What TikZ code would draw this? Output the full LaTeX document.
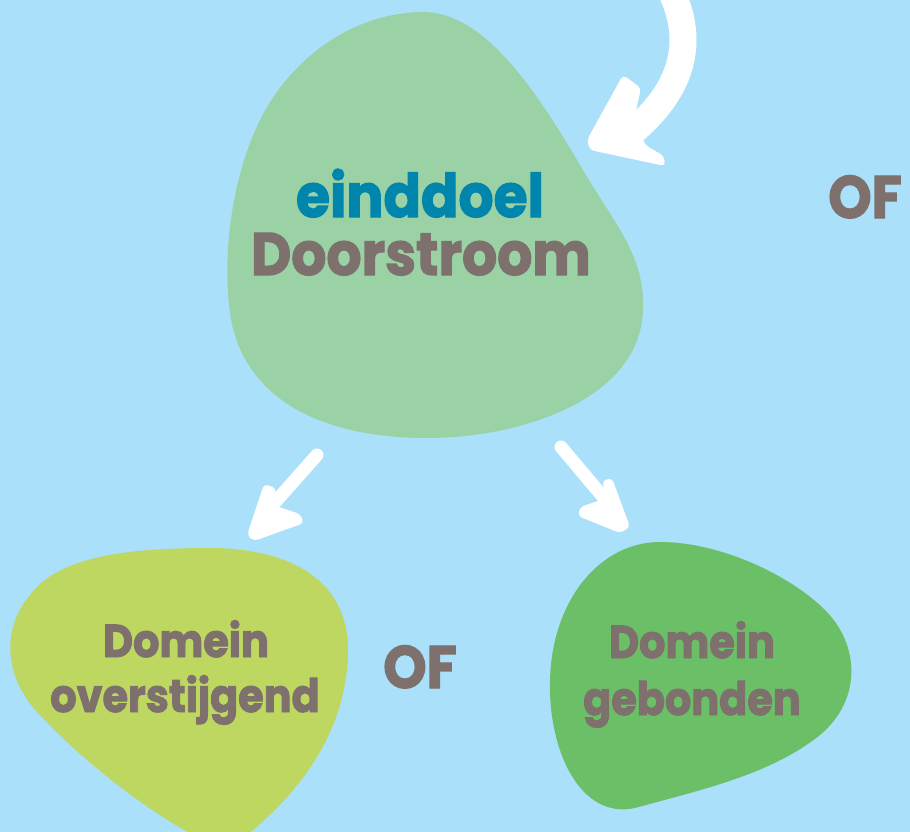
\documentclass[tikz,border=0pt]{standalone}
\usepackage{fontspec}
\newfontfamily\blobfont{Poppins}[FakeStretch=0.92, FakeBold=2]
\newfontfamily\smallblobfont{Poppins}[FakeStretch=0.90, FakeBold=2]
\definecolor{bgblue}{HTML}{ABE0FA}
\definecolor{topgreen}{HTML}{9AD2A6}
\definecolor{limegreen}{HTML}{BDD760}
\definecolor{midgreen}{HTML}{6BBF67}
\definecolor{txtgray}{HTML}{7E706D}
\definecolor{txtblue}{HTML}{0086AC}
\tikzset{
  bigtxt/.style={font=\blobfont\bfseries\fontsize{60}{60}\selectfont, inner sep=0pt, anchor=base},
  smalltxt/.style={font=\smallblobfont\bfseries\fontsize{46}{46}\selectfont, inner sep=0pt, anchor=base, text=txtgray},
  wshaft/.style={draw=white, line width=13pt, line cap=round},
  whead/.style={fill=white, rounded corners=4pt}
}
\begin{document}
\begin{tikzpicture}[x=1pt,y=-1pt]
\useasboundingbox (0,0) rectangle (910,832);
\clip (0,0) rectangle (910,832);
\fill[bgblue] (0,0) rectangle (910,832);

% blobs
\fill[topgreen] (420,12) .. controls (480,10) and (530,80) .. (580,165)
  .. controls (615,225) and (645,255) .. (643,310)
  .. controls (640,400) and (520,438) .. (427,438)
  .. controls (330,438) and (248,405) .. (231,320)
  .. controls (220,250) and (235,170) .. (260,120)
  .. controls (290,60) and (350,14) .. (420,12) -- cycle;
\fill[limegreen] (200,548) .. controls (290,546) and (348,580) .. (348,650)
  .. controls (348,720) and (310,790) .. (230,848)
  .. controls (200,848) and (100,780) .. (40,715)
  .. controls (5,680) and (0,630) .. (30,595)
  .. controls (60,555) and (130,549) .. (200,548) -- cycle;
\fill[midgreen] (660,542) .. controls (720,542) and (790,575) .. (825,610)
  .. controls (860,645) and (862,700) .. (820,735)
  .. controls (770,775) and (700,790) .. (635,808)
  .. controls (580,820) and (548,750) .. (550,680)
  .. controls (552,600) and (600,542) .. (660,542) -- cycle;

% texts
\node[bigtxt, text=txtblue] (einddoel) at (420,217) {einddoel};
\node[bigtxt, text=txtgray] (doorstroom) at (421,275) {Doorstroom};
\node[bigtxt, text=txtgray] (of1) at (865,218) {OF};
\node[bigtxt, text=txtgray] (of2) at (420,688) {OF};
\node[smalltxt] (dom1) at (186,657) {Domein};
\node[smalltxt] (over) at (185,712) {overstijgend};
\node[smalltxt] (dom2) at (692,658) {Domein};
\node[smalltxt] (geb) at (692,715) {gebonden};

% top arrow
\coordinate (t0) at (668,-15);
\coordinate (t1) at (632,132);
\draw[draw=white, line width=27pt] (t0) .. controls (692,30) and (692,82) .. (t1);
\fill[whead] (587,140) -- (623,75) -- (641,88) -- (635,115) -- (645,145) -- (664,156) -- (665,166) -- (590,150) -- cycle;

% left arrow
\coordinate (l0) at (317,455);
\coordinate (l1) at (270,508);
\draw[wshaft] (l0) -- (l1);
\fill[whead] (247,535) -- (264,484) -- (276,488) -- (273,505) -- (300,514) -- (304,523) -- (254,541) -- cycle;

% right arrow
\coordinate (r0) at (561,447);
\coordinate (r1) at (604,498);
\draw[wshaft] (r0) -- (r1);
\fill[whead] (630,527) -- (612,478) -- (602,481) -- (607,498) -- (580,507) -- (578,516) -- (620,533) -- cycle;
\end{tikzpicture}
\end{document}
